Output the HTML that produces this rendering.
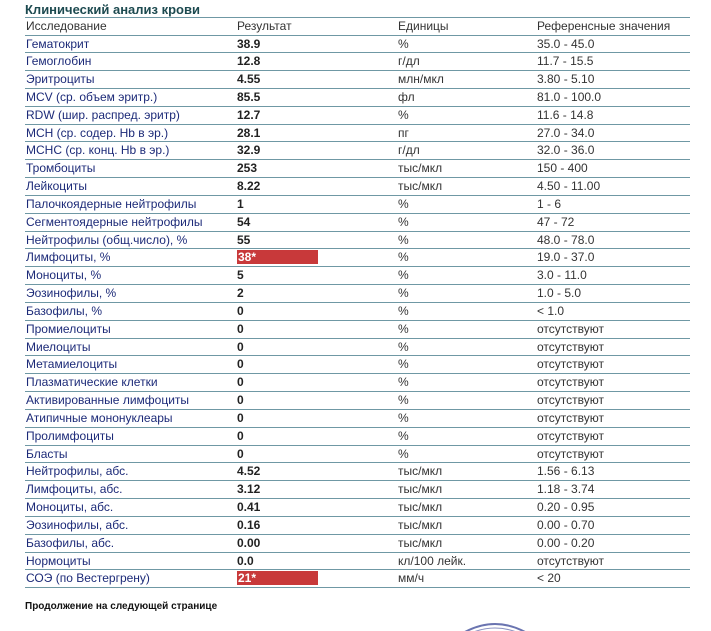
<!DOCTYPE html>
<html><head><meta charset="utf-8"><style>
body{margin:0;width:711px;height:630px;background:#fff;position:relative;overflow:hidden;font-family:"Liberation Sans","DejaVu Sans",sans-serif;}
.t{position:absolute;left:25px;top:2px;font-size:13px;font-weight:bold;color:#1d4a50;}
.r{position:absolute;left:25px;width:665px;border-bottom:1.5px solid #6f98a4;font-size:12px;line-height:17px;color:#1c2a78;box-sizing:border-box;}
.r span{position:absolute;top:0;white-space:nowrap}
.a{left:1px}.b{left:212px;font-weight:bold;color:#222}.c{left:373px;color:#333}.d{left:512px;color:#333}
.h span{color:#333}
.red{background:#c8393a;color:#fff!important;width:81px;height:14px;line-height:14px;top:1px!important;padding-left:1px;box-sizing:border-box}
.f{position:absolute;left:25px;top:601px;font-size:10px;font-weight:bold;color:#111}
.top{position:absolute;left:25px;top:17px;width:665px;border-top:1.5px solid #6f98a4}
</style></head><body>
<div class="t">Клинический анализ крови</div>
<div class="top"></div>
<div id="rows"></div>
<div class="f">Продолжение на следующей странице</div>
<svg style="position:absolute;left:455px;top:619px" width="80" height="12"><path d="M8 14 Q40 -4 72 14" stroke="#6a74b0" stroke-width="2" fill="none"/><path d="M16 14 Q40 4 64 14" stroke="#8a90c0" stroke-width="1" fill="none"/></svg>
<script>
var d=[["Исследование","Результат","Единицы","Референсные значения"],
["Гематокрит","38.9","%","35.0 - 45.0"],["Гемоглобин","12.8","г/дл","11.7 - 15.5"],["Эритроциты","4.55","млн/мкл","3.80 - 5.10"],
["MCV (ср. объем эритр.)","85.5","фл","81.0 - 100.0"],["RDW (шир. распред. эритр)","12.7","%","11.6 - 14.8"],
["MCH (ср. содер. Hb в эр.)","28.1","пг","27.0 - 34.0"],["MCHC (ср. конц. Hb в эр.)","32.9","г/дл","32.0 - 36.0"],
["Тромбоциты","253","тыс/мкл","150 - 400"],["Лейкоциты","8.22","тыс/мкл","4.50 - 11.00"],
["Палочкоядерные нейтрофилы","1","%","1 - 6"],["Сегментоядерные нейтрофилы","54","%","47 - 72"],
["Нейтрофилы (общ.число), %","55","%","48.0 - 78.0"],["Лимфоциты, %","38*","%","19.0 - 37.0"],
["Моноциты, %","5","%","3.0 - 11.0"],["Эозинофилы, %","2","%","1.0 - 5.0"],["Базофилы, %","0","%","< 1.0"],
["Промиелоциты","0","%","отсутствуют"],["Миелоциты","0","%","отсутствуют"],["Метамиелоциты","0","%","отсутствуют"],
["Плазматические клетки","0","%","отсутствуют"],["Активированные лимфоциты","0","%","отсутствуют"],
["Атипичные мононуклеары","0","%","отсутствуют"],["Пролимфоциты","0","%","отсутствуют"],["Бласты","0","%","отсутствуют"],
["Нейтрофилы, абс.","4.52","тыс/мкл","1.56 - 6.13"],["Лимфоциты, абс.","3.12","тыс/мкл","1.18 - 3.74"],
["Моноциты, абс.","0.41","тыс/мкл","0.20 - 0.95"],["Эозинофилы, абс.","0.16","тыс/мкл","0.00 - 0.70"],
["Базофилы, абс.","0.00","тыс/мкл","0.00 - 0.20"],["Нормоциты","0.0","кл/100 лейк.","отсутствуют"],
["СОЭ (по Вестергрену)","21*","мм/ч","< 20"]];
var h="";var S=17.83;
d.forEach(function(r,i){var top=i==0?18:35.5+(i-1)*S;var hh=i==0?17.5:S;
var red=r[1].indexOf("*")>=0?" red":"";
h+='<div class="r'+(i==0?' h':'')+'" style="top:'+top+'px;height:'+hh+'px"><span class="a">'+r[0]+'</span><span class="b'+red+'"'+(i==0?' style="font-weight:normal;color:#333"':'')+'>'+r[1]+'</span><span class="c">'+r[2]+'</span><span class="d">'+r[3].replace("<","&lt;")+'</span></div>';});
document.getElementById("rows").innerHTML=h;
</script>
</body></html>
